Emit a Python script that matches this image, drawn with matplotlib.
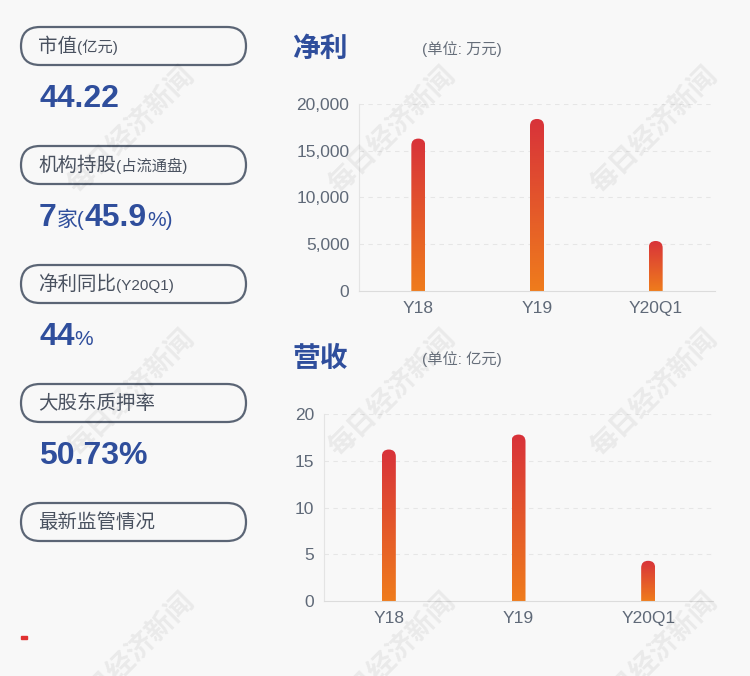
import numpy as np
import matplotlib
matplotlib.use("Agg")
import matplotlib.pyplot as plt
from matplotlib.patches import FancyBboxPatch, Rectangle
from matplotlib.colors import LinearSegmentedColormap
from matplotlib.ticker import FuncFormatter

plt.rcParams['font.family'] = ['Liberation Sans', 'Noto Sans CJK SC', 'DejaVu Sans']

# data
periods = ['Y18', 'Y19', 'Y20Q1']
net_profit = [16300, 18400, 5350]      # 万元
revenue = [16.2, 17.8, 4.3]           # 亿元
card_labels = [('市值', '(亿元)'), ('机构持股', '(占流通盘)'), ('净利同比', '(Y20Q1)'),
               ('大股东质押率', ''), ('最新监管情况', '')]
card_values = [
    [('44.22', 'big')],
    [('7', 'big'), ('家(', 'small'), ('45.9', 'big'), ('%)', 'small')],
    [('44', 'big'), ('%', 'small')],
    [('50.73%', 'big')],
    [],
]

BG = '#f8f8f8'
BLUE = '#2f4e9c'
GRAY = '#5f6978'
TOP_C = '#d8323a'
BOT_C = '#ef7c1c'

fig = plt.figure(figsize=(7.5, 6.76), dpi=100, facecolor=BG)
W, H = 750, 676


def make_axes(left, right, top, bottom):
    return fig.add_axes([left / W, 1 - bottom / H, (right - left) / W, (bottom - top) / H])


def style_axes(ax, ymax, step, fmt):
    ax.set_facecolor('none')
    ax.set_xlim(-0.5, len(periods) - 0.5)
    ax.set_ylim(0, ymax)
    ax.set_yticks(np.arange(0, ymax + 1e-9, step))
    ax.yaxis.set_major_formatter(FuncFormatter(fmt))
    ax.set_xticks(range(len(periods)))
    ax.set_xticklabels(periods)
    for s in ['top', 'right']:
        ax.spines[s].set_visible(False)
    ax.spines['left'].set_color('#e4e4e4')
    ax.spines['bottom'].set_color('#dcdcdc')
    ax.tick_params(length=0, labelsize=12.5, colors=GRAY, pad=7)
    for yv in np.arange(step, ymax + 1e-9, step):
        ax.axhline(yv, color='#e6e6e6', lw=0.8, dashes=(4, 4), zorder=0)


def gradient_bars(ax, values, width):
    cmap = LinearSegmentedColormap.from_list('g', [BOT_C, TOP_C])
    p0, p1 = ax.transData.transform([(0, 0), (1, 1)])
    sx, sy = p1 - p0
    rx = width / 2
    ry = rx * sx / sy
    for i, v in enumerate(values):
        patch = FancyBboxPatch((i - rx, -ry), width, v + ry,
                               boxstyle=f"round,pad=0,rounding_size={rx}",
                               mutation_aspect=ry / rx, fc='none', ec='none')
        ax.add_patch(patch)
        im = ax.imshow(np.linspace(0, 1, 256).reshape(-1, 1), cmap=cmap, origin='lower',
                       extent=[i - rx, i + rx, 0, v], aspect='auto', zorder=2)
        im.set_clip_path(patch)
    ax.set_xlim(-0.5, len(values) - 0.5)


ax1 = make_axes(359, 715, 104, 291)
style_axes(ax1, 20000, 5000, lambda v, p: f'{int(v):,}')
gradient_bars(ax1, net_profit, 14 / 118.7)
ax1.set_ylim(0, 20000)

ax2 = make_axes(324, 713, 414, 601)
style_axes(ax2, 20, 5, lambda v, p: f'{int(v)}')
gradient_bars(ax2, revenue, 14 / 129.7)
ax2.set_ylim(0, 20)

# overlay in pixel coordinates
ov = fig.add_axes([0, 0, 1, 1], zorder=5)
ov.set_xlim(0, W)
ov.set_ylim(H, 0)
ov.axis('off')
ov.patch.set_alpha(0)

# watermarks
for cx in [132, 393, 655]:
    for cy in [131, 394, 657]:
        ov.text(cx, cy, '每日经济新闻', rotation=45, fontsize=20, fontweight='bold',
                color='#000000', alpha=0.06, ha='center', va='center',
                family=['Noto Sans CJK SC'])

# chart titles
ov.text(292, 50, '净利', fontsize=20, fontweight='bold', color=BLUE, va='center')
ov.text(422, 49, '(单位: 万元)', fontsize=11, color='#666e7a', va='center')
ov.text(292, 360, '营收', fontsize=20, fontweight='bold', color=BLUE, va='center')
ov.text(422, 359, '(单位: 亿元)', fontsize=11, color='#666e7a', va='center')

renderer = fig.canvas.get_renderer()


def seq_text(x, y, pieces):
    for s, size, kw in pieces:
        t = ov.text(x, y, s, fontsize=size, va='baseline', ha='left', **kw)
        bb = t.get_window_extent(renderer=renderer)
        x += bb.width


# left cards
for k, (lab, sub) in enumerate(card_labels):
    top = 27 + 119 * k
    box = FancyBboxPatch((21, top), 225, 38, boxstyle="round,pad=0,rounding_size=19",
                         fc='none', ec='#5b6575', lw=1.6)
    ov.add_patch(box)
    seq_text(38, top + 25, [(lab, 14, dict(color='#4a5260')),
                            (sub, 11, dict(color='#4a5260'))])
    if card_values[k]:
        pieces = []
        for s, kind in card_values[k]:
            pieces.append((s, 23 if kind == 'big' else 15,
                           dict(color=BLUE, fontweight='bold' if kind == 'big' else 'normal')))
        seq_text(39, top + 80, pieces)

ov.add_patch(Rectangle((21, 636), 6, 3, color='#e03030'))

fig.savefig('out.png', dpi=100, facecolor=BG)
